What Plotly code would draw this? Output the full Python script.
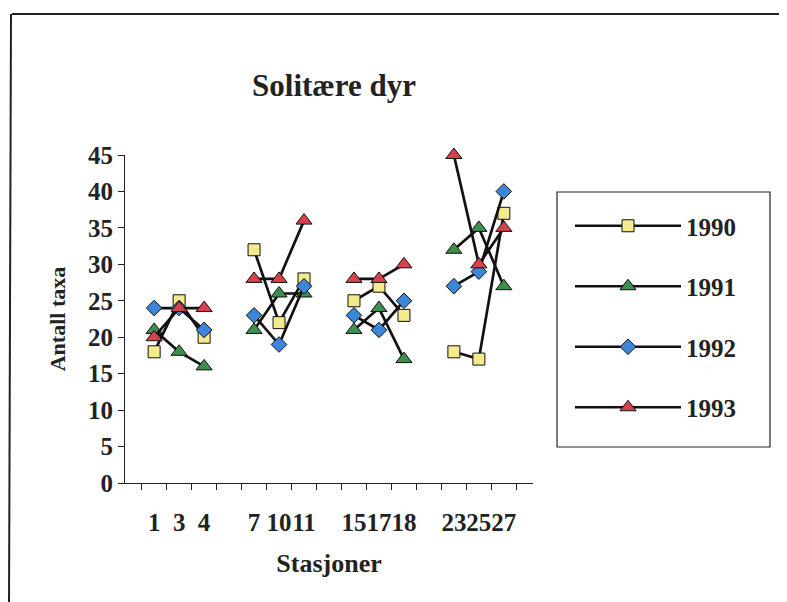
import plotly.graph_objects as go

# Stations (blank categories make the gaps between the four groups)
stations = ['1', '3', '4', ' ', '7', '10', '11', '  ', '15', '17', '18', '   ', '23', '25', '27']

y1990 = [18, 25, 20, None, 32, 22, 28, None, 25, 27, 23, None, 18, 17, 37]
y1991 = [21, 18, 16, None, 21, 26, 26, None, 21, 24, 17, None, 32, 35, 27]
y1992 = [24, 24, 21, None, 23, 19, 27, None, 23, 21, 25, None, 27, 29, 40]
y1993 = [20, 24, 24, None, 28, 28, 36, None, 28, 28, 30, None, 45, 30, 35]

years = ['1990', '1991', '1992', '1993']
series = [y1990, y1991, y1992, y1993]
symbols = ['square', 'triangle-up', 'diamond', 'triangle-up']
fills = ['#F2EA8C', '#3E8E4E', '#3C86D8', '#D8404E']
sizes = [12, 14, 12, 14]

FONT = 'Liberation Serif'

# the page body adds an 8px margin, so work in window pixels and shift back
OFF = 8
W, H = 787 - OFF, 602 - OFF
# plot area in window pixels: x 125..533, y 155..483
L, R, T, B = 125, 533, 155, 483


def px_x(p):
    return (p - L) / (R - L)


def px_y(p):
    return (B - p) / (B - T)


fig = go.Figure()

for name, ys, sym, col, sz in zip(years, series, symbols, fills, sizes):
    fig.add_trace(go.Scatter(
        x=stations,
        y=ys,
        name='<b>' + name + '</b>',
        legendgroup=name,
        mode='lines+markers',
        connectgaps=False,
        cliponaxis=False,
        line=dict(color='#111111', width=2.7),
        marker=dict(symbol=sym, size=sz, color=col,
                    line=dict(color='#111111', width=1))
    ))

fig.update_layout(
    width=W,
    height=H,
    margin=dict(l=L - OFF, r=W - (R - OFF), t=T - OFF, b=H - (B - OFF), autoexpand=False),
    plot_bgcolor='white',
    paper_bgcolor='white',
    font=dict(family=FONT, color='#222222'),
    title=dict(text='<b>Solitære dyr</b>', font=dict(size=31, family=FONT),
               x=(334 - OFF) / W, xref='container', y=1 - (85 - OFF) / H,
               yanchor='middle', xanchor='center'),
    showlegend=True,
    legend=dict(
        x=px_x(570), y=px_y(203), xanchor='left', yanchor='top',
        xref='paper', yref='paper',
        bgcolor='rgba(0,0,0,0)', borderwidth=0,
        font=dict(size=25, family=FONT, color='#222222'),
        traceorder='grouped', tracegroupgap=25, itemwidth=106
    ),
    shapes=[
        # legend box
        dict(type='rect', xref='paper', yref='paper',
             x0=px_x(557), x1=px_x(770), y0=px_y(447), y1=px_y(192),
             line=dict(color='#222222', width=1.2), fillcolor='rgba(0,0,0,0)'),
        # scan frame
        dict(type='line', xref='paper', yref='paper',
             x0=px_x(12), x1=px_x(800), y0=px_y(14), y1=px_y(14),
             line=dict(color='#222222', width=2)),
        dict(type='line', xref='paper', yref='paper',
             x0=px_x(11), x1=px_x(9), y0=px_y(14), y1=px_y(610),
             line=dict(color='#222222', width=2)),
    ]
)

fig.update_xaxes(
    type='category',
    categoryorder='array',
    categoryarray=stations,
    tickson='boundaries',
    tickmode='linear', dtick=1, tickangle=0,
    ticks='outside', ticklen=6, tickcolor='#222222', tickwidth=1,
    showline=True, linecolor='#222222', linewidth=1.2,
    showgrid=False, zeroline=False,
    tickfont=dict(size=25, family=FONT, color='#222222'),
    ticklabelstandoff=17,
    title=dict(text='<b>Stasjoner</b>', font=dict(size=26, family=FONT), standoff=18),
    tickprefix='<b>', ticksuffix='</b>'
)

fig.update_yaxes(
    range=[0, 45],
    dtick=5,
    ticks='outside', ticklen=6, tickcolor='#222222', tickwidth=1,
    showline=True, linecolor='#222222', linewidth=1.2,
    showgrid=False, zeroline=False,
    tickfont=dict(size=25, family=FONT, color='#222222'),
    tickprefix='<b>', ticksuffix='</b>',
    title=dict(text='<b>Antall taxa</b>', font=dict(size=22, family=FONT), standoff=16)
)

fig.write_html('out.html')
